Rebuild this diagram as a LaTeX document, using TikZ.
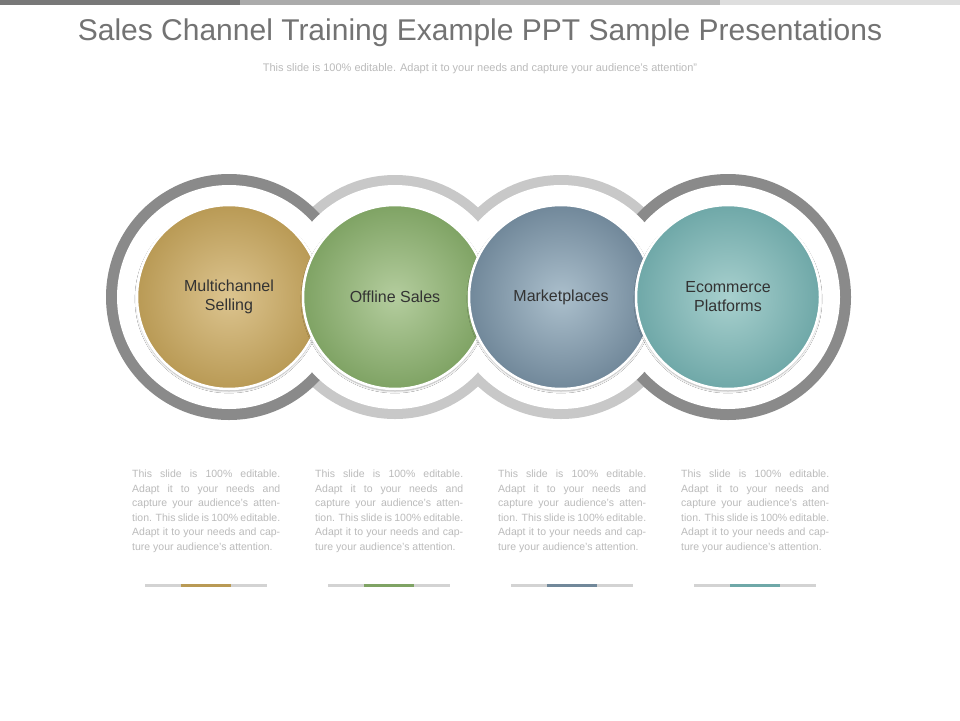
\documentclass[tikz,border=0pt]{standalone}
\usepackage{fontspec}
\setmainfont{Liberation Sans}
\usetikzlibrary{shadows.blur}
\definecolor{ringdark}{HTML}{8A8A8A}
\definecolor{ringlight}{HTML}{C8C8C8}
\definecolor{cA}{HTML}{B99A55}\definecolor{cAi}{HTML}{DCC48F}
\definecolor{cB}{HTML}{7FA364}\definecolor{cBi}{HTML}{B4CD9E}
\definecolor{cC}{HTML}{71889A}\definecolor{cCi}{HTML}{ABBFCC}
\definecolor{cD}{HTML}{6FA8A8}\definecolor{cDi}{HTML}{A8D0CE}
\definecolor{bodytxt}{HTML}{BBBBBB}
\tikzset{
 ball/.style={circle,minimum size=184pt,inner sep=0pt,draw=white,line width=2.5pt,
   blur shadow={shadow blur steps=8,shadow xshift=0pt,shadow yshift=-2pt,shadow opacity=35},
   font=\fontsize{16}{19}\selectfont,text=black!80,align=center},
 bodytext/.style={text width=148pt,align=justify,inner sep=0pt,anchor=north west,
   font=\fontsize{10.5}{14.5}\selectfont,text=bodytxt},
 barbg/.style={line width=3pt,draw=ringlight!80},
}
\begin{document}
\begin{tikzpicture}[x=1pt,y=-1pt]
\useasboundingbox (0,0) rectangle (960,720);
\fill[white] (0,0) rectangle (960,720);
% top bar
\fill[black!53] (0,0) rectangle (240,5);
\fill[black!33] (240,0) rectangle (480,5);
\fill[black!27] (480,0) rectangle (720,5);
\fill[black!13] (720,0) rectangle (960,5);
\node (title) at (480,33) {\fontsize{30}{34}\selectfont\color{black!55}Sales Channel Training Example PPT Sample Presentations};
\node (sub) at (480,69) {\fontsize{11}{13}\selectfont\color{bodytxt}This slide is 100\% editable. Adapt it to your needs and capture your audience's attention''};
% rings
\fill[ringlight] (395,297) circle (122);
\fill[ringlight] (561,297) circle (122);
\fill[ringdark] (229,297) circle (123);
\fill[ringdark] (728,297) circle (123);
\foreach \x in {229,395,561,728} \fill[white] (\x,297) circle (112);
% balls
\node[ball,inner color=cAi,outer color=cA] (b1) at (229,297) {Multichannel\\Selling};
\node[ball,inner color=cBi,outer color=cB] (b2) at (395,297) {Offline Sales};
\node[ball,inner color=cCi,outer color=cC] (b3) at (561,297) {Marketplaces};
\node[ball,inner color=cDi,outer color=cD] (b4) at (728,297) {Ecommerce\\Platforms};
% text blocks
\foreach \x/\c/\n in {132/cA/1,315/cB/2,498/cC/3,681/cD/4}{
 \node[bodytext] (t\n) at (\x,470) {This slide is 100\% editable. Adapt it to your needs and capture your audience's attention. This slide is 100\% editable. Adapt it to your needs and capture your audience's attention.};
 \draw[barbg] (\x+13,585) -- (\x+135,585);
 \draw[line width=3pt,draw=\c] (\x+49,585) -- (\x+99,585);
}
\end{tikzpicture}
\end{document}
